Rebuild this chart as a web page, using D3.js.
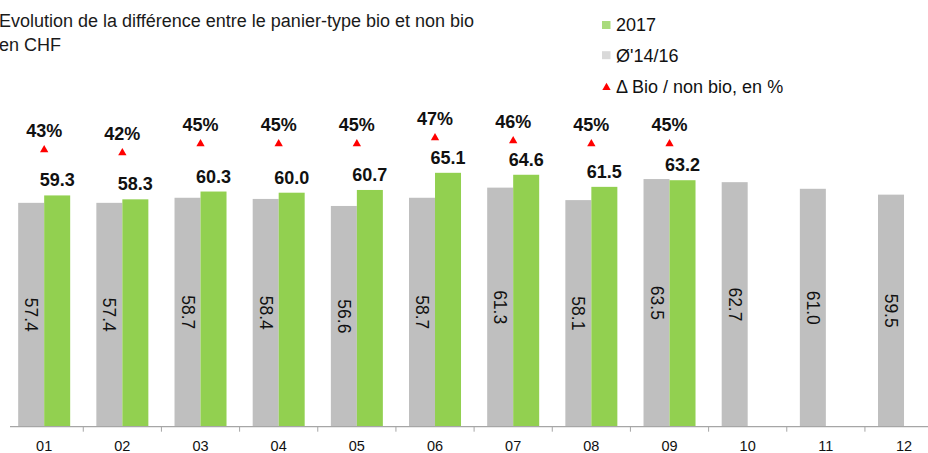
<html>
  <head>
    <script src="https://d3js.org/d3.v7.min.js"></script>
    <style>
      body { margin: 0; background: #fff; }
      svg text { font-family: "Liberation Sans", Arial, sans-serif; }
    </style>
  </head>
  <body>
    <svg width="928" height="453" id="chart"></svg>
    <script>
      // data
      const months = ["01", "02", "03", "04", "05", "06", "07", "08", "09", "10", "11", "12"];
      const bio2017 = [59.3, 58.3, 60.3, 60.0, 60.7, 65.1, 64.6, 61.5, 63.2];
      const avg1416 = [57.4, 57.4, 58.7, 58.4, 56.6, 58.7, 61.3, 58.1, 63.5, 62.7, 61.0, 59.5];
      const deltaPct = [43, 42, 45, 45, 45, 47, 46, 45, 45];
      const titleLines = ["Evolution de la différence entre le panier-type bio et non bio", "en CHF"];
      const legendLabels = ["2017", "Ø'14/16", "\u0394 Bio / non bio, en %"];

      const gray = "#bfbfbf";
      const green = "#92d050";

      const svg = d3.select("svg#chart");

      const x = d3.scaleBand().domain(months).range([5.1, 943.1]).paddingInner(0).paddingOuter(0);
      const y = d3.scaleLinear().domain([0, 100]).range([426.7, 36.7]);
      // secondary axis for the percentage markers
      const y2 = d3.scaleLinear().domain([30, 50]).range([188.8, 128.8]);
      const barW = 26;

      // title
      svg
        .append("text")
        .attr("x", -1)
        .attr("y", 27)
        .style("font-size", "18px")
        .style("fill", "#1a1a1a")
        .selectAll("tspan")
        .data(titleLines)
        .join("tspan")
        .attr("x", -1)
        .attr("dy", (d, i) => (i === 0 ? 0 : 23.5))
        .text((d) => d);

      // gray bars (Ø'14/16)
      const center = (m) => x(m) + x.bandwidth() / 2;
      svg
        .selectAll("rect.avg")
        .data(avg1416)
        .join("rect")
        .attr("class", "avg")
        .attr("x", (d, i) => center(months[i]) - barW)
        .attr("y", (d) => y(d))
        .attr("width", barW)
        .attr("height", (d) => y(0) - y(d))
        .attr("fill", gray);

      // green bars (2017)
      svg
        .selectAll("rect.bio")
        .data(bio2017)
        .join("rect")
        .attr("class", "bio")
        .attr("x", (d, i) => center(months[i]))
        .attr("y", (d) => y(d))
        .attr("width", barW)
        .attr("height", (d) => y(0) - y(d))
        .attr("fill", green);

      // rotated labels inside gray bars
      svg
        .selectAll("text.avgLabel")
        .data(avg1416)
        .join("text")
        .attr("class", "avgLabel")
        .attr("transform", (d, i) => `translate(${center(months[i]) - barW / 2}, ${(y(d) + y(0)) / 2}) rotate(90)`)
        .attr("text-anchor", "middle")
        .attr("dominant-baseline", "central")
        .style("font-size", "17.5px")
        .style("fill", "#111")
        .text((d) => d.toFixed(1));

      // bold labels above green bars
      svg
        .selectAll("text.bioLabel")
        .data(bio2017)
        .join("text")
        .attr("class", "bioLabel")
        .attr("x", (d, i) => center(months[i]) + barW / 2)
        .attr("y", (d) => y(d) - 9)
        .attr("text-anchor", "middle")
        .style("font-size", "18px")
        .style("font-weight", "bold")
        .style("fill", "#111")
        .text((d) => d.toFixed(1));

      // red triangle markers
      const tri = d3.symbol().type(d3.symbolTriangle).size(30);
      svg
        .selectAll("path.delta")
        .data(deltaPct)
        .join("path")
        .attr("class", "delta")
        .attr("d", tri)
        .attr("transform", (d, i) => `translate(${center(months[i])}, ${y2(d)})`)
        .attr("fill", "#ff0000");

      svg
        .selectAll("text.deltaLabel")
        .data(deltaPct)
        .join("text")
        .attr("class", "deltaLabel")
        .attr("x", (d, i) => center(months[i]))
        .attr("y", (d) => y2(d) - 13)
        .attr("text-anchor", "middle")
        .style("font-size", "18px")
        .style("font-weight", "bold")
        .style("fill", "#111")
        .text((d) => d + "%");

      // x axis: line, boundary ticks, labels
      svg
        .append("line")
        .attr("x1", 10)
        .attr("x2", 928)
        .attr("y1", y(0))
        .attr("y2", y(0))
        .style("stroke", "#a6a6a6")
        .style("stroke-width", 1.3);
      svg
        .selectAll("line.tick")
        .data(months.slice(1))
        .join("line")
        .attr("class", "tick")
        .attr("x1", (d) => x(d))
        .attr("x2", (d) => x(d))
        .attr("y1", y(0))
        .attr("y2", y(0) + 5)
        .style("stroke", "#a6a6a6");
      svg
        .selectAll("text.month")
        .data(months)
        .join("text")
        .attr("class", "month")
        .attr("x", (d) => center(d))
        .attr("y", 450.5)
        .attr("text-anchor", "middle")
        .style("font-size", "14.5px")
        .style("fill", "#111")
        .text((d) => d);

      // legend
      const legend = svg.append("g").attr("transform", "translate(602, 0)");
      const legendY = [31, 61.7, 92.5];
      legend
        .append("rect")
        .attr("x", 0)
        .attr("y", legendY[0] - 10)
        .attr("width", 8.5)
        .attr("height", 8)
        .attr("fill", "#a9db7c");
      legend
        .append("rect")
        .attr("x", 0)
        .attr("y", legendY[1] - 10.5)
        .attr("width", 8.5)
        .attr("height", 8)
        .attr("fill", "#d9d9d9");
      legend
        .append("path")
        .attr("d", tri)
        .attr("transform", `translate(4.5, ${legendY[2] - 5})`)
        .attr("fill", "#ff0000");
      legend
        .selectAll("text")
        .data(legendLabels)
        .join("text")
        .attr("x", 14)
        .attr("y", (d, i) => legendY[i])
        .style("font-size", "18px")
        .style("fill", "#111")
        .text((d) => d);
    </script>
  </body>
</html>
